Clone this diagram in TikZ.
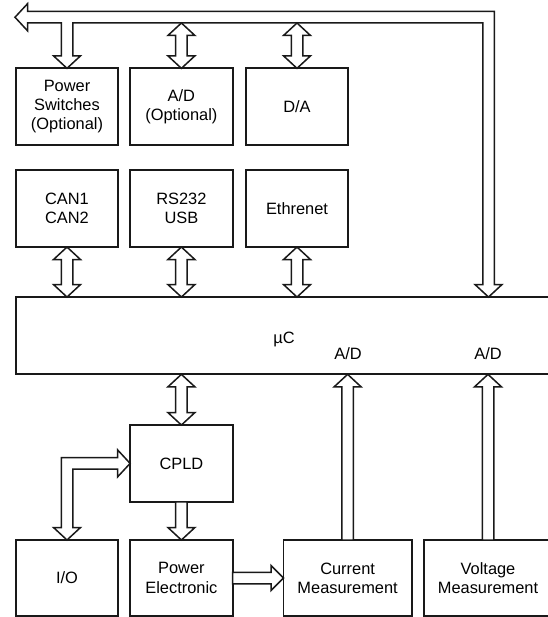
\documentclass[tikz,border=0pt]{standalone}
\usepackage{fontspec}
\setmainfont{Liberation Sans}
\usetikzlibrary{calc}
\def\sw{5.75pt}
\def\hw{13.5pt}
\def\hl{12.5pt}
\tikzset{
  blk/.style={draw=black!90, line width=1.8pt, minimum width=102.6pt, minimum height=76.7pt,
    inner sep=0pt, outer sep=0pt, align=center, font=\fontsize{16.4}{19.2}\selectfont, fill=white},
  wide/.style={minimum width=128.2pt},
  lbl/.style={font=\fontsize{16.4}{19.2}\selectfont, inner sep=0pt},
  arr/.style={draw=black!90, line width=1.5pt, line join=miter, fill=white}
}
\newcommand\dblarrow[2]{%
  \draw[arr] let \p1=(#1), \p2=(#2) in
    (\x1,\y1) -- (\x1+\hw,\y1-\hl) -- (\x1+\sw,\y1-\hl) -- (\x1+\sw,\y2+\hl)
    -- (\x1+\hw,\y2+\hl) -- (\x1,\y2) -- (\x1-\hw,\y2+\hl) -- (\x1-\sw,\y2+\hl)
    -- (\x1-\sw,\y1-\hl) -- (\x1-\hw,\y1-\hl) -- cycle;}
\newcommand\uparrowblk[2]{%
  \draw[arr] let \p1=(#1), \p2=(#2) in
    (\x1,\y1) -- (\x1+\hw,\y1-\hl) -- (\x1+\sw,\y1-\hl) -- (\x1+\sw,\y2)
    -- (\x1-\sw,\y2) -- (\x1-\sw,\y1-\hl) -- (\x1-\hw,\y1-\hl) -- cycle;}
\begin{document}
\begin{tikzpicture}[x=1pt,y=-1pt]
\useasboundingbox (0,0) rectangle (547,617);
% boxes
\node[blk] (ps) at (67,106.7) {Power\\Switches\\(Optional)};
\node[blk] (adopt) at (181.4,106.7) {A/D\\(Optional)};
\node[blk] (da) at (297,106.7) {D/A};
\node[blk] (can) at (67,208.7) {CAN1\\CAN2};
\node[blk] (rs) at (181.4,208.7) {RS232\\USB};
\node[blk] (eth) at (297,208.7) {Ethrenet};
\node[blk, minimum width=536.3pt, minimum height=77.3pt] (uc) at (283.9,335.7) {};
\node[lbl] (uclbl) at (284,339) {µC};
\node[lbl] (ad1) at (348,354) {A/D};
\node[lbl] (ad2) at (488,354) {A/D};
\node[blk] (cpld) at (181.4,463.4) {CPLD};
\node[blk, minimum height=76pt] (io) at (67,578) {I/O};
\node[blk, minimum height=76pt] (pe) at (181.4,578) {Power\\Electronic};
\node[blk, wide, minimum height=76pt] (cur) at (347.6,578) {Current\\Measurement};
\node[blk, wide, minimum height=76pt] (vol) at (488,578) {Voltage\\Measurement};
\coordinate (tipL) at (15,17.25);
\coordinate (bin) at (0,23);
\coordinate (adtop) at (adopt.north |- bin);
\coordinate (datop) at (da.north |- bin);
\coordinate (canbot) at (can.south |- uc.north);
\coordinate (rsbot) at (rs.south |- uc.north);
\coordinate (ethbot) at (eth.south |- uc.north);
\coordinate (cpldtop) at (cpld.north |- uc.south);
\coordinate (curtop) at (cur.north |- uc.south);
\coordinate (voltop) at (vol.north |- uc.south);
\coordinate (busdrop) at ($(vol.north |- uc.north)+(0.5,0)$);
% top bus
\draw[arr] let \p1=(ps.north), \p2=(busdrop), \p3=(tipL) in
  (\x3,\y3) -- (\x3+\hl,\y3+\hw) -- (\x3+\hl,\y3+\sw) -- (\x2+\sw,\y3+\sw)
  -- (\x2+\sw,\y2+\hl) -- (\x2+\hw,\y2+\hl) -- (\x2,\y2) -- (\x2-\hw,\y2+\hl)
  -- (\x2-\sw,\y2+\hl) -- (\x2-\sw,\y3-\sw) -- (\x1+\sw,\y3-\sw) -- (\x1+\sw,\y1+\hl)
  -- (\x1+\hw,\y1+\hl) -- (\x1,\y1) -- (\x1-\hw,\y1+\hl) -- (\x1-\sw,\y1+\hl)
  -- (\x1-\sw,\y3-\sw) -- (\x3+\hl,\y3-\sw) -- (\x3+\hl,\y3-\hw) -- cycle;
% vertical double arrows
\dblarrow{adtop}{adopt.north}
\dblarrow{datop}{da.north}
\dblarrow{can.south}{canbot}
\dblarrow{rs.south}{rsbot}
\dblarrow{eth.south}{ethbot}
\dblarrow{cpldtop}{cpld.north}
% up arrows into the A/D inputs
\uparrowblk{curtop}{cur.north}
\uparrowblk{voltop}{vol.north}
% CPLD -> Power Electronic
\draw[arr] let \p1=(cpld.south), \p2=(pe.north) in
  (\x1-\sw,\y1) -- (\x1+\sw,\y1) -- (\x1+\sw,\y2+\hl) -- (\x1+\hw,\y2+\hl)
  -- (\x1,\y2) -- (\x1-\hw,\y2+\hl) -- (\x1-\sw,\y2+\hl) -- cycle;
% Power Electronic -> Current Measurement
\draw[arr] let \p1=(pe.east), \p2=(cur.west) in
  (\x1,\y1+\sw) -- (\x2-\hl,\y1+\sw) -- (\x2-\hl,\y1+12.5pt) -- (\x2,\y1)
  -- (\x2-\hl,\y1-12.5pt) -- (\x2-\hl,\y1-\sw) -- (\x1,\y1-\sw) -- cycle;
% I/O <-> CPLD
\draw[arr] let \p1=(io.north), \p2=(cpld.west) in
  (\x1,\y1) -- (\x1+\hw,\y1+\hl) -- (\x1+\sw,\y1+\hl) -- (\x1+\sw,\y2-\sw)
  -- (\x2-\hl,\y2-\sw) -- (\x2-\hl,\y2-\hw) -- (\x2,\y2) -- (\x2-\hl,\y2+\hw)
  -- (\x2-\hl,\y2+\sw) -- (\x1-\sw,\y2+\sw) -- (\x1-\sw,\y1+\hl) -- (\x1-\hw,\y1+\hl) -- cycle;
\end{tikzpicture}
\end{document}
